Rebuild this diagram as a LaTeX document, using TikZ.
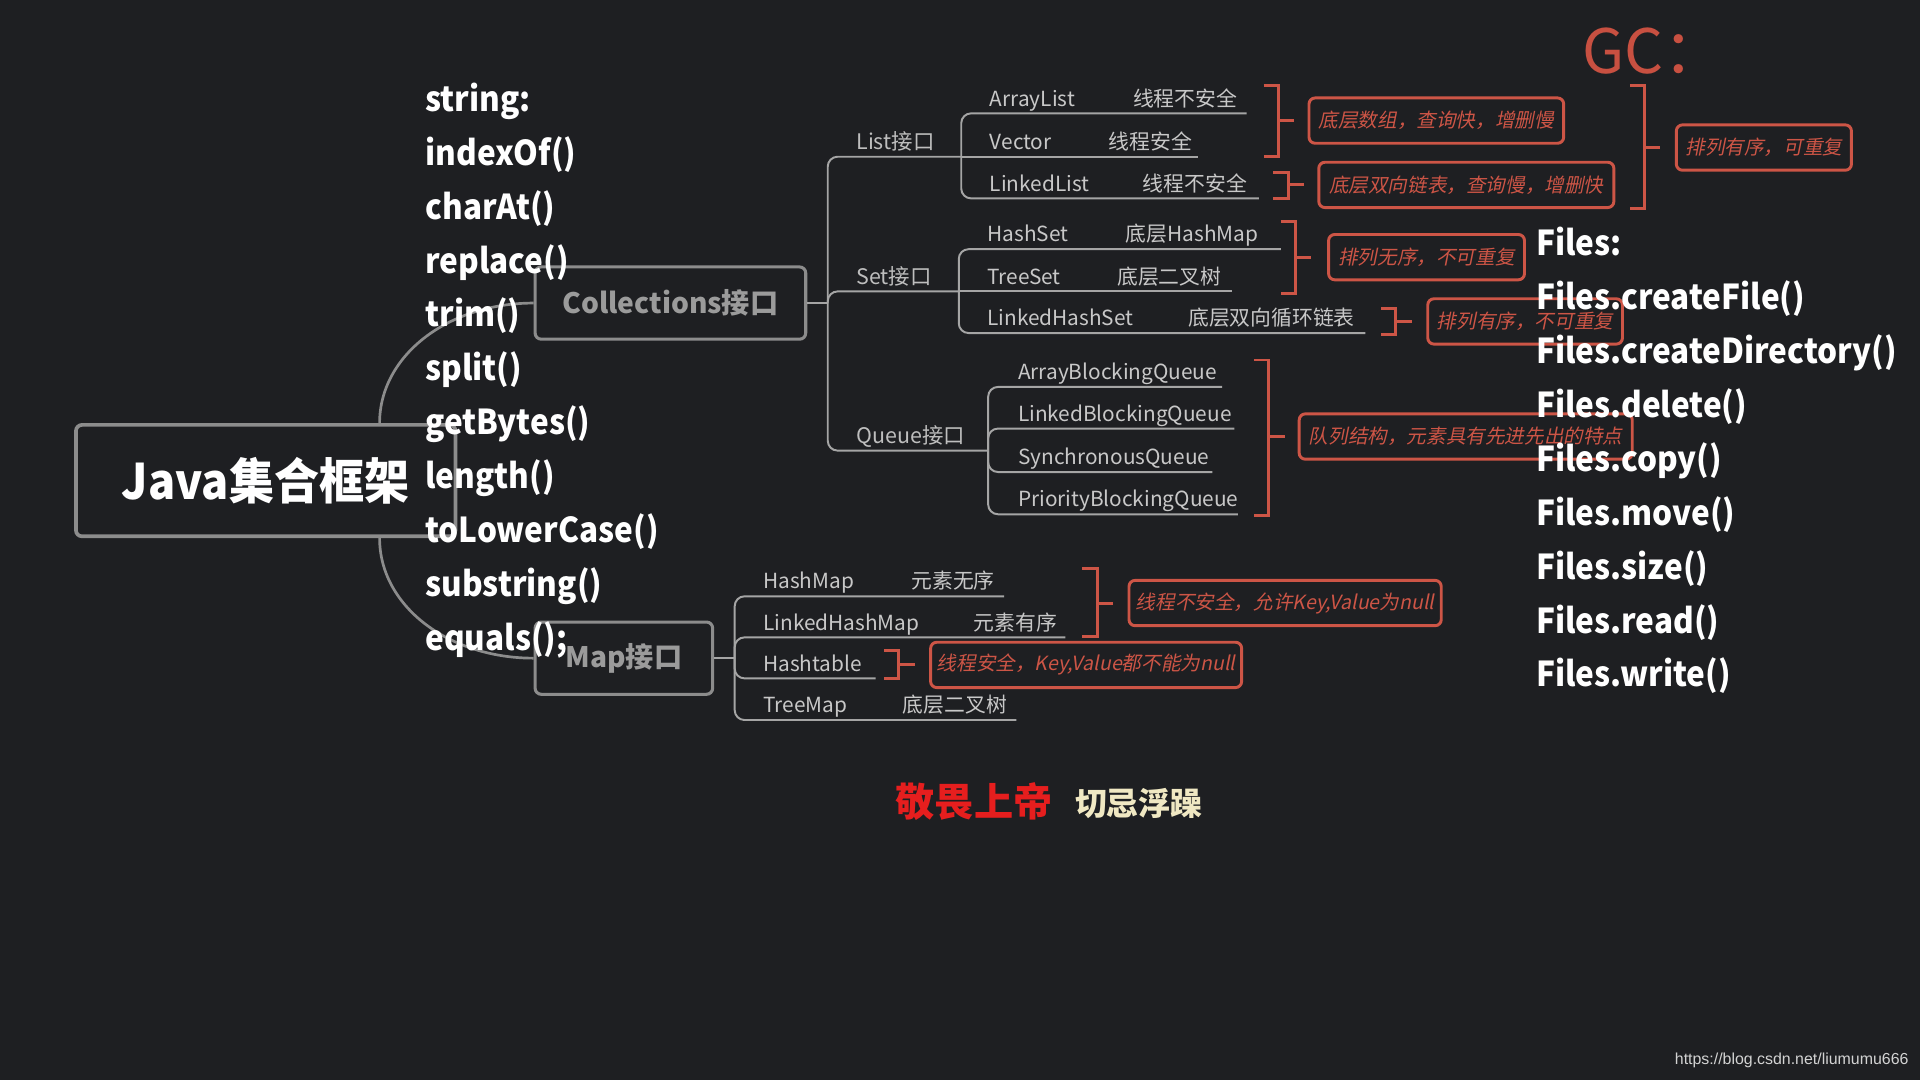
\documentclass[tikz,border=0pt]{standalone}
\usepackage{fontspec}
\setmainfont{Noto Sans CJK SC}
\newfontfamily\slcjk{Noto Sans CJK SC}[FakeSlant=0.2]
\newfontfamily\methfont{Noto Sans CJK SC}[FakeStretch=0.92]
\newfontfamily\wmfont{Liberation Sans}
\usetikzlibrary{calc}
\definecolor{bg}{RGB}{30,31,34}
\definecolor{conngray}{RGB}{165,165,165}
\definecolor{boxgray}{RGB}{140,140,140}
\definecolor{boxtext}{RGB}{155,155,155}
\definecolor{itemgray}{RGB}{200,200,200}
\definecolor{labgray}{RGB}{190,190,190}
\definecolor{notered}{RGB}{205,85,70}
\definecolor{gcred}{RGB}{200,80,65}
\definecolor{godred}{RGB}{230,30,30}
\definecolor{cream}{RGB}{240,232,195}
\newcommand\redbrk[4]{%
  \draw[brk] (#1-12,#2) -- (#1,#2) -- (#1,#3) -- (#1-12,#3);
  \draw[brk] (#1,0 |- #4.west) -- ++(13,0);}
\begin{document}
\begin{tikzpicture}[x=0.5pt,y=-0.5pt,
  box/.style={draw=boxgray, line width=1.25pt, rounded corners=2.5pt, fill=bg, inner sep=0pt},
  rootbox/.style={box, line width=1.5pt, minimum width=155pt, minimum height=45.5pt, text=white,
    font=\methfont\bfseries\fontsize{20}{23}\selectfont},
  ifbox/.style={box, minimum height=29.5pt, text=boxtext, font=\bfseries\fontsize{11.5}{14}\selectfont},
  conn/.style={draw=conngray, line width=0.8pt, rounded corners=4pt},
  curve/.style={draw=boxgray, line width=1.1pt},
  item/.style={anchor=base west, inner sep=0pt, text=itemgray, font=\fontsize{8.5}{10}\selectfont},
  lab/.style={anchor=base west, inner sep=0pt, text=labgray, font=\fontsize{8.75}{10}\selectfont},
  note/.style={draw=notered, line width=1.2pt, rounded corners=2.5pt, text=notered,
    font=\slcjk\fontsize{8}{10}\selectfont, inner sep=0pt, minimum height=18.5pt},
  brk/.style={draw=notered, line width=1.2pt},
  meth/.style={anchor=base west, inner sep=0pt, text=white, font=\methfont\bfseries\fontsize{14}{17}\selectfont}
]
\fill[bg] (0,0) rectangle (1568,882);
\useasboundingbox (0,0) rectangle (1568,882);

% main boxes
\node[rootbox] (root) at (217,392.5) {Java集合框架};
\node[ifbox, minimum width=110.5pt] (coll) at (547.5,247.5) {Collections接口};
\node[ifbox, minimum width=72.5pt] (map) at (509.5,537.5) {Map接口};

\draw[curve] ([xshift=46.5pt]root.north) .. controls +(0,-55) and +(-70,0) .. (coll.west);
\draw[curve] ([xshift=46.5pt]root.south) .. controls +(0,55) and +(-70,0) .. (map.west);

% Collections tree
\coordinate (cj) at (676,247.5);
\coordinate (lj) at (785,128);
\coordinate (sj) at (783,238);
\coordinate (qj) at (807,368);
\draw[conn] (coll.east) -- (cj);
\draw[conn] (cj) |- (lj);
\draw[conn] (cj) |- (sj);
\draw[conn] (cj) |- (qj);
\node[lab] (listl) at (699,122) {List接口};
\node[lab] (setl) at (699,232) {Set接口};
\node[lab] (queuel) at (699,362) {Queue接口};

% List children
\draw[conn] (lj) |- (1018,92.6);
\draw[conn] (lj) -- (978,128);
\draw[conn] (lj) |- (1028,162);
\node[item] (al) at (808,86.6) {ArrayList};
\node[item] (ald) at (925,86.6) {线程不安全};
\node[item] (vec) at (808,122) {Vector};
\node[item] (vecd) at (905,122) {线程安全};
\node[item] (ll) at (808,156) {LinkedList};
\node[item] (lld) at (933,156) {线程不安全};

% Set children
\draw[conn] (sj) |- (1046,203.5);
\draw[conn] (sj) -- (1006,238);
\draw[conn] (sj) |- (1115,272);
\node[item] (hs) at (806,197.5) {HashSet};
\node[item] (hsd) at (919,197.5) {底层HashMap};
\node[item] (ts) at (806,232) {TreeSet};
\node[item] (tsd) at (912,232) {底层二叉树};
\node[item] (lhs) at (806,266) {LinkedHashSet};
\node[item] (lhsd) at (970,266) {底层双向循环链表};

% Queue children
\draw[conn] (qj) |- (998,316);
\draw[conn] (qj) |- (1008,350);
\draw[conn] (qj) |- (990,385.5);
\draw[conn] (qj) |- (1011,420);
\node[item] (abq) at (831,310) {ArrayBlockingQueue};
\node[item] (lbq) at (831,344) {LinkedBlockingQueue};
\node[item] (sq) at (831,379.5) {SynchronousQueue};
\node[item] (pbq) at (831,414) {PriorityBlockingQueue};

% Map tree
\coordinate (mj) at (600,537.5);
\draw[conn] (map.east) -- (mj);
\draw[conn] (mj) |- (820,487);
\draw[conn] (mj) |- (870,520.5);
\draw[conn] (mj) |- (715,554);
\draw[conn] (mj) |- (830,588);
\node[item] (hm) at (623,481) {HashMap};
\node[item] (hmd) at (744,481) {元素无序};
\node[item] (lhm) at (623,514.5) {LinkedHashMap};
\node[item] (lhmd) at (795,514.5) {元素有序};
\node[item] (ht) at (623,548) {Hashtable};
\node[item] (tm) at (623,582) {TreeMap};
\node[item] (tmd) at (737,582) {底层二叉树};

% notes
\node[note, minimum width=104pt] (n1) at (1173,98.5) {底层数组，查询快，增删慢};
\node[note, minimum width=120.5pt] (n2) at (1197.5,151) {底层双向链表，查询慢，增删快};
\node[note, minimum width=71.5pt] (n3) at (1440.5,120.5) {排列有序，可重复};
\node[note, minimum width=80pt] (n4) at (1165,210) {排列无序，不可重复};
\node[note, minimum width=79.5pt] (n5) at (1245.5,262.5) {排列有序，不可重复};
\node[note, minimum width=136pt] (n6) at (1197,356.5) {队列结构，元素具有先进先出的特点};
\node[note, minimum width=127.5pt] (n7) at (1049.5,492.5) {线程不安全，允许Key,Value为null};
\node[note, minimum width=127pt] (n8) at (887,543) {线程安全，Key,Value都不能为null};

\redbrk{1044}{70}{128}{n1}
\redbrk{1052}{141}{162}{n2}
\redbrk{1343}{70}{170}{n3}
\redbrk{1058}{181}{240}{n4}
\redbrk{1140}{252}{273}{n5}
\redbrk{1036}{294}{421}{n6}
\redbrk{896}{464}{520}{n7}
\redbrk{734}{531}{554}{n8}

% GC
\node[anchor=west, inner sep=0pt, text=gcred, font=\fontsize{25}{28}\selectfont] (gc) at (1292,42) {GC：};

% String methods
\node[meth] (m1) at (347,91) {string:};
\node[meth] (m2) at (347,135) {indexOf()};
\node[meth] (m3) at (347,179) {charAt()};
\node[meth] (m4) at (347,223) {replace()};
\node[meth] (m5) at (347,267) {trim()};
\node[meth] (m6) at (347,311) {split()};
\node[meth] (m7) at (347,355) {getBytes()};
\node[meth] (m8) at (347,399) {length()};
\node[meth] (m9) at (347,443) {toLowerCase()};
\node[meth] (m10) at (347,487) {substring()};
\node[meth] (m11) at (347,531) {equals();};

% Files methods
\node[meth] (f1) at (1254,209) {Files:};
\node[meth] (f2) at (1254,253) {Files.createFile()};
\node[meth] (f3) at (1254,297) {Files.createDirectory()};
\node[meth] (f4) at (1254,341) {Files.delete()};
\node[meth] (f5) at (1254,385) {Files.copy()};
\node[meth] (f6) at (1254,429) {Files.move()};
\node[meth] (f7) at (1254,473) {Files.size()};
\node[meth] (f8) at (1254,517) {Files.read()};
\node[meth] (f9) at (1254,561) {Files.write()};

% bottom motto
\node[inner sep=0pt, text=godred, font=\bfseries\fontsize{16}{18}\selectfont] (god) at (795.5,655) {敬畏上帝};
\node[inner sep=0pt, text=cream, font=\bfseries\fontsize{13}{15}\selectfont] (calm) at (930,656) {切忌浮躁};

% watermark
\node[anchor=east, inner sep=0pt, text=itemgray!80, font=\wmfont\fontsize{6.5}{8}\selectfont] (wm) at (1559,866) {https://blog.csdn.net/liumumu666};
\end{tikzpicture}
\end{document}
